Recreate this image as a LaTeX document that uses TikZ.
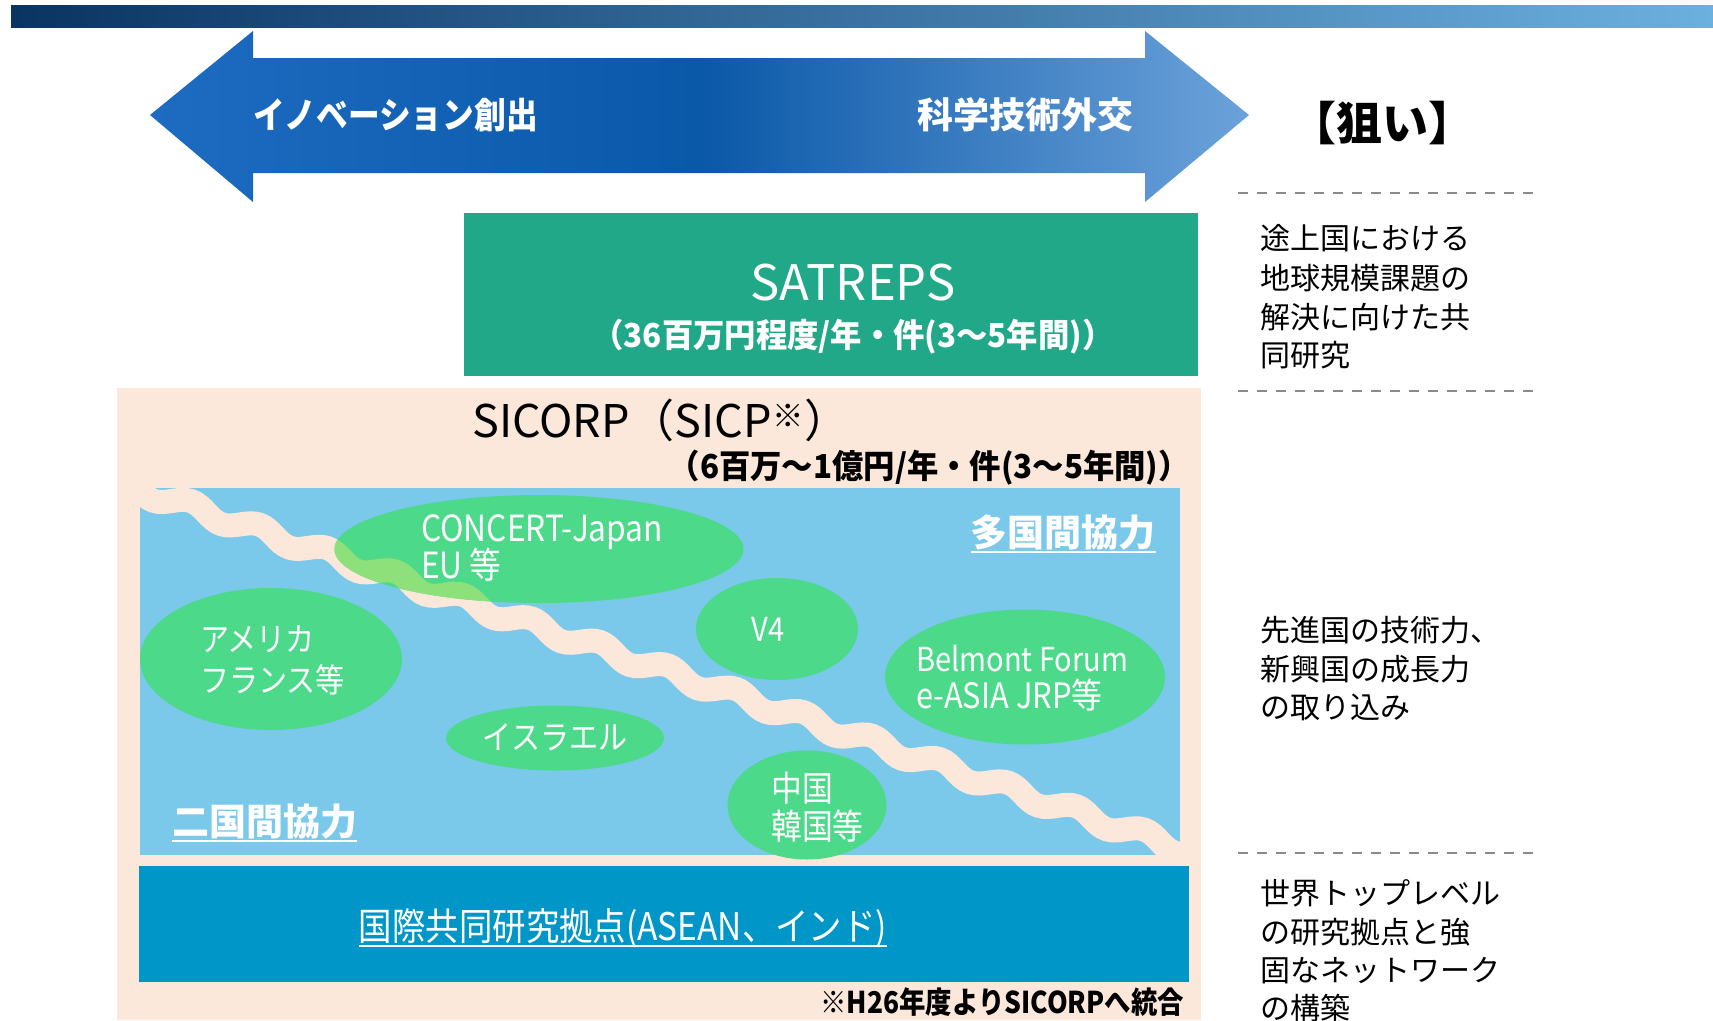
\documentclass[tikz,border=0pt]{standalone}
\usepackage{fontspec}
\setmainfont{Noto Sans CJK JP}
\newfontfamily\jpc[FakeStretch=0.88]{Noto Sans CJK JP}
\newfontfamily\jpm[FakeStretch=0.95]{Noto Sans CJK JP}
\usetikzlibrary{shapes.geometric,decorations.pathmorphing}
\definecolor{bannerL}{HTML}{0A3462}
\definecolor{bannerR}{HTML}{6CB0E0}
\definecolor{arrL}{HTML}{1E6CC2}
\definecolor{arrM}{HTML}{0A58A8}
\definecolor{arrR}{HTML}{6CA2DA}
\definecolor{satreps}{HTML}{20A888}
\definecolor{peach}{HTML}{FCE8DA}
\definecolor{lblue}{HTML}{7AC8EA}
\definecolor{egreen}{HTML}{4CD98A}
\definecolor{lime}{HTML}{8EE07A}
\definecolor{dblue}{HTML}{0096C8}
\definecolor{dashgrey}{HTML}{8A8A8A}
\newcommand\fsz[1]{\fontsize{#1}{#1}\selectfont}
\begin{document}
\begin{tikzpicture}[x=1pt,y=-1pt,
  wt/.style={text=white,inner sep=0pt},
  bt/.style={text=black,inner sep=0pt},
  ell/.style={ellipse,fill=egreen,draw=none,inner sep=0pt},
  dashline/.style={draw=dashgrey,line width=1.8pt,dash pattern=on 10pt off 9pt},
  uline/.style={draw=white,line width=2pt},
  rtext/.style={bt,anchor=base west,font=\fsz{30}},
  etext/.style={wt,font=\jpc\fsz{33}},
  wave/.style={line width=24pt,decorate,decoration={snake,amplitude=6pt,segment length=72pt}}]
\useasboundingbox (0,0) rectangle (1713,1020);
\fill[white] (0,0) rectangle (1713,1020);
% banner
\shade[left color=bannerL,right color=bannerR] (11,5) rectangle (1713,27);
% double arrow
\shade[left color=arrL,right color=arrR,middle color=arrM]
  (150,115) -- (253,31) -- (253,58) -- (1145,58) -- (1145,31) -- (1249,115)
  -- (1145,202) -- (1145,173) -- (253,173) -- (253,202) -- cycle;
\node[wt,anchor=base west,font=\bfseries\jpc\fsz{36}] (tinno) at (253,128) {イノベーション創出};
\node[wt,anchor=base east,font=\bfseries\fsz{36}] (tsci) at (1134,128) {科学技術外交};
\node[bt,anchor=base,font=\bfseries\fsz{46}] (nerai) at (1382,140) {【狙い】};
% dashed separators
\draw[dashline] (1238,193) -- (1537,193);
\draw[dashline] (1238,391) -- (1537,391);
\draw[dashline] (1238,853) -- (1537,853);
% SATREPS
\fill[satreps] (464,213) rectangle (1198,376);
\node[wt,anchor=base,font=\fsz{49}] (satt) at (853,300) {SATREPS};
\node[wt,anchor=base,font=\bfseries\jpm\fsz{33}] (sats) at (853,347) {（36百万円程度/年・件(3～5年間)）};
% SICORP
\fill[peach] (117,388) rectangle (1201,1020);
\node[bt,anchor=base west,font=\fsz{45}] (sict) at (472,437) {SICORP（SICP\textsuperscript{※}）};
\node[bt,anchor=base east,font=\bfseries\jpm\fsz{33}] (sics) at (1190,478) {（6百万～1億円/年・件(3～5年間)）};
\fill[lblue] (140,488) rectangle (1180,855);
\begin{scope}
  \clip (140,488) rectangle (1180,855);
  \draw[peach,wave] (100,476) -- (1220,862);
\end{scope}
% ellipses
\node[ell,minimum width=409pt,minimum height=108pt] (econ) at (539,549) {};
\begin{scope}
  \clip (econ.center) ellipse [x radius=204.5pt,y radius=54pt];
  \draw[lime,wave] (100,476) -- (1220,862);
\end{scope}
\node[ell,minimum width=262pt,minimum height=142pt] (eame) at (271,659) {};
\node[ell,minimum width=162pt,minimum height=102pt] (ev4) at (777,629) {};
\node[ell,minimum width=280pt,minimum height=135pt] (ebel) at (1025,677) {};
\node[ell,minimum width=218pt,minimum height=65pt] (eisr) at (555,738) {};
\node[ell,minimum width=159pt,minimum height=109pt] (echn) at (807,805) {};
% ellipse texts
\node[etext,anchor=base west,font=\jpc\fsz{36}] (tcon1) at (421,541) {CONCERT-Japan};
\node[etext,anchor=base west,font=\jpc\fsz{36}] (tcon2) at (421,578) {EU 等};
\node[etext,anchor=base west] (tame1) at (200,651) {アメリカ};
\node[etext,anchor=base west] (tame2) at (200,692) {フランス等};
\node[etext,anchor=base] (tv4) at (768,641) {V4};
\node[etext,anchor=base west] (tbel1) at (916,671) {Belmont Forum};
\node[etext,anchor=base west,font=\jpc\fsz{35}] (tbel2) at (916,708) {e-ASIA JRP等};
\node[etext,anchor=base] (tisr) at (555,749) {イスラエル};
\node[etext,anchor=base west,font=\jpc\fsz{35}] (tchn1) at (771,801) {中国};
\node[etext,anchor=base west,font=\jpc\fsz{35}] (tchn2) at (771,839) {韓国等};
% multi / bilateral labels
\node[wt,anchor=base east,font=\bfseries\fsz{37}] (tmulti) at (1156,546) {多国間協力};
\draw[uline] ([yshift=-6pt]tmulti.base west) -- ([yshift=-6pt]tmulti.base east);
\node[wt,anchor=base west,font=\bfseries\fsz{37}] (tbi) at (172,835) {二国間協力};
\draw[uline] ([yshift=-6pt]tbi.base west) -- ([yshift=-6pt]tbi.base east);
% bottom box
\fill[dblue] (139,866) rectangle (1189,982);
\node[wt,anchor=base,font=\jpc\fsz{38}] (tbase) at (623,940) {国際共同研究拠点(ASEAN、インド)};
\draw[uline] ([yshift=-6pt]tbase.base west) -- ([yshift=-6pt]tbase.base east);
\node[bt,anchor=base east,font=\bfseries\jpc\fsz{30}] (tnote) at (1184,1013) {※H26年度よりSICORPへ統合};
% right column
\node[rtext] (r1a) at (1260,249) {途上国における};
\node[rtext] (r1b) at (1260,289) {地球規模課題の};
\node[rtext] (r1c) at (1260,328) {解決に向けた共};
\node[rtext] (r1d) at (1260,366) {同研究};
\node[rtext] (r2a) at (1260,641) {先進国の技術力、};
\node[rtext] (r2b) at (1260,680) {新興国の成長力};
\node[rtext] (r2c) at (1260,718) {の取り込み};
\node[rtext] (r3a) at (1260,904) {世界トップレベル};
\node[rtext] (r3b) at (1260,943) {の研究拠点と強};
\node[rtext] (r3c) at (1260,981) {固なネットワーク};
\node[rtext] (r3d) at (1260,1019) {の構築};
\end{tikzpicture}
\end{document}
